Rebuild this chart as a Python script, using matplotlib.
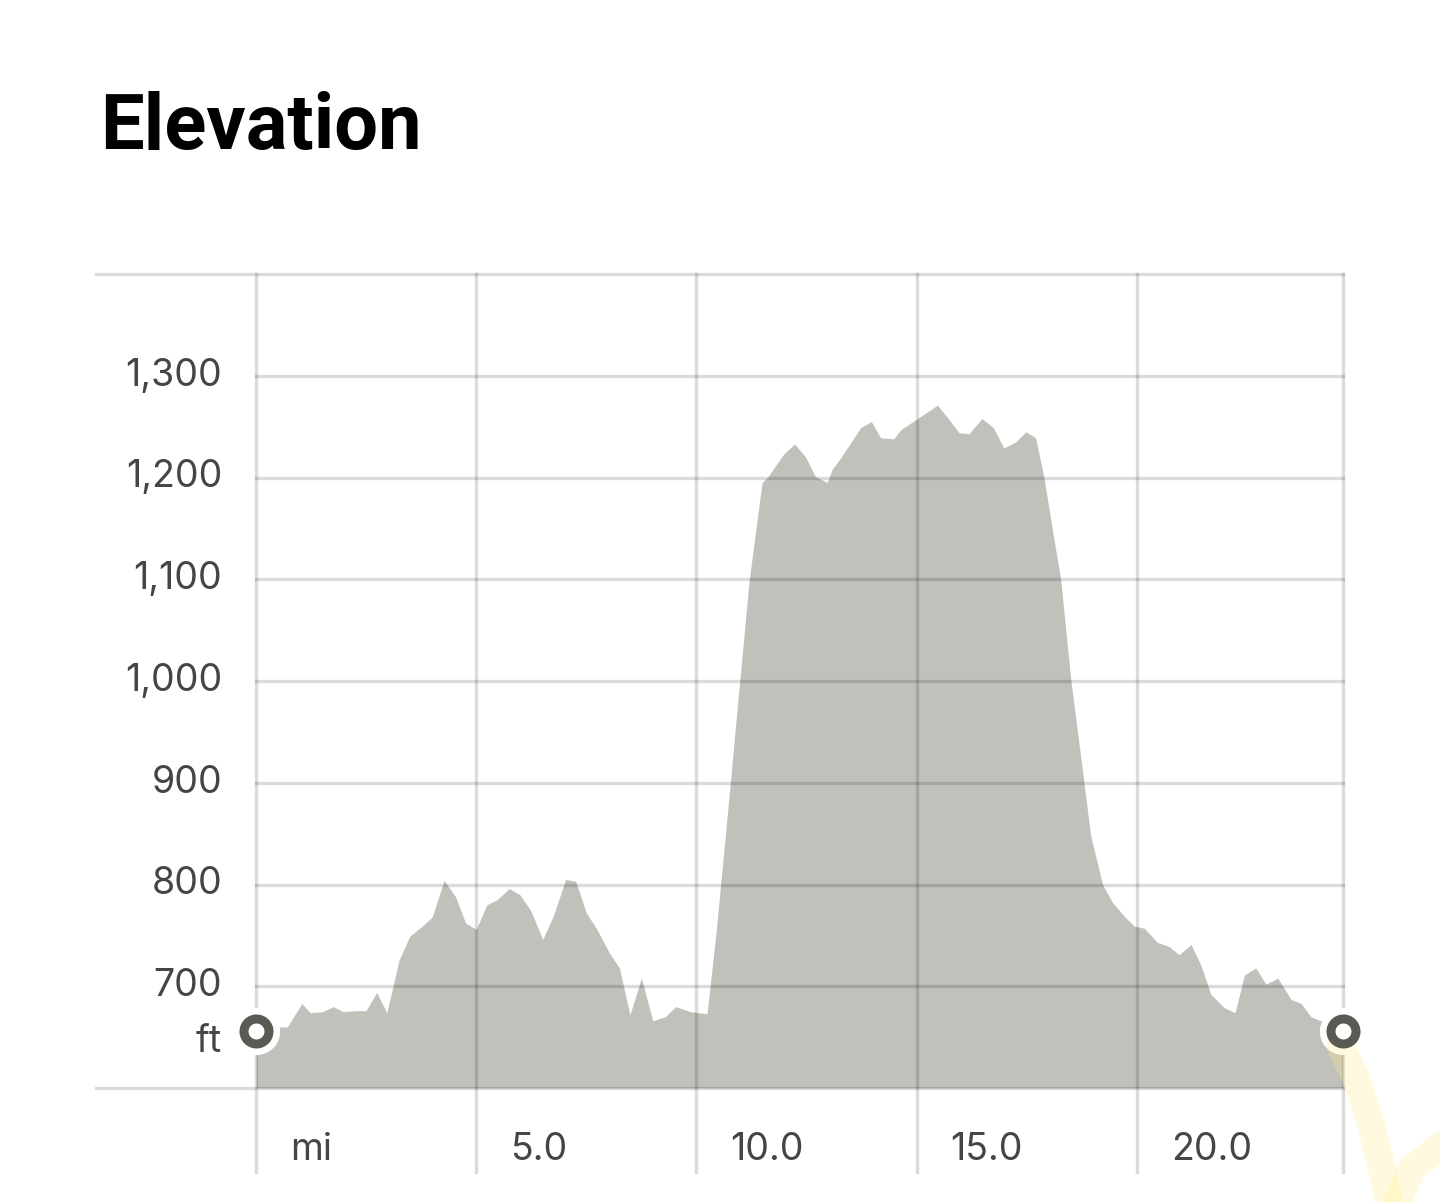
import matplotlib
matplotlib.use("Agg")
import matplotlib.pyplot as plt

plt.rcParams['font.family'] = ['Inter', 'DejaVu Sans']

# distance along the trail (mi) and elevation (ft)
miles = [0.0, 0.45, 0.71, 1.04, 1.23, 1.51, 1.75, 1.98, 2.26, 2.5, 2.74, 2.97,
         3.25, 3.49, 3.77, 4.0, 4.27, 4.53, 4.76, 5.0, 5.24, 5.47, 5.75, 5.99,
         6.23, 6.51, 6.75, 7.03, 7.26, 7.5, 7.74, 8.02, 8.25, 8.49, 8.75, 9.01,
         9.29, 9.53, 9.86, 10.24, 10.45, 10.7, 10.95, 11.2, 11.49, 11.61, 11.98,
         12.23, 12.48, 12.7, 12.97, 13.08, 13.27, 13.73, 13.97, 14.18, 14.48,
         14.64, 15.02, 15.47, 15.7, 15.96, 16.19, 16.48, 16.74, 16.98, 17.25,
         17.48, 17.7, 17.89, 18.08, 18.27, 18.5, 18.8, 18.95, 19.22, 19.45,
         19.71, 19.94, 20.17, 20.47, 20.73, 20.96, 21.23, 21.45, 21.68, 21.98,
         22.23, 22.44, 22.7, 22.93, 23.2, 23.5, 23.73, 23.95, 24.18, 24.45, 24.68]
elev = [641, 660, 660, 683, 674, 675, 680, 675, 676, 676, 694, 674,
        726, 749, 759, 768, 804, 788, 762, 756, 780, 785, 796, 790,
        775, 746, 769, 805, 803, 772, 756, 733, 718, 672, 708, 666,
        670, 680, 675, 673, 755, 868, 985, 1100, 1195, 1200, 1223,
        1233, 1220, 1201, 1195, 1208, 1219, 1249, 1255, 1239, 1238,
        1247, 1258, 1271, 1259, 1244, 1243, 1258, 1249, 1229, 1235,
        1245, 1239, 1200, 1149, 1100, 1001, 900, 848, 800, 782,
        769, 759, 757, 743, 739, 731, 741, 721, 692, 679,
        674, 711, 718, 702, 708, 687, 683, 670, 666, 657, 650]

# start / finish markers
marker_miles = [0.0, 24.68]
marker_elev = [656, 656]

y_ticks = [700, 800, 900, 1000, 1100, 1200, 1300]
y_labels = ['700', '800', '900', '1,000', '1,100', '1,200', '1,300']
x_ticks = [0, 5, 10, 15, 20]
x_labels = ['mi', '5.0', '10.0', '15.0', '20.0']

fig = plt.figure(figsize=(14.4, 12.02), dpi=100)
ax = fig.add_axes([256 / 1440, 114 / 1202, 1087 / 1440, 814 / 1202])
ax.set_xlim(0, 24.68)
ax.set_ylim(600, 1400)
ax.axis('off')

ax.fill_between(miles, elev, 600, color='#c1c0ba', linewidth=0, zorder=1)

grid = dict(color='black', alpha=0.14, linewidth=2.4, zorder=2, clip_on=False)
# horizontal grid lines
for v in y_ticks:
    ax.plot([0, 1], [v, v], transform=ax.get_yaxis_transform(), **grid)
# top and bottom borders reach further left
for v in [600, 1400]:
    ax.plot([-0.147, 1], [v, v], transform=ax.get_yaxis_transform(), **grid)
# vertical grid lines run below the plot
for v in x_ticks + [24.68]:
    ax.plot([v, v], [-0.103, 1], transform=ax.get_xaxis_transform(), **grid)

# y labels
for v, lab in zip(y_ticks, y_labels):
    ax.text(-0.031, v, lab, transform=ax.get_yaxis_transform(), ha='right',
            va='center', fontsize=27, color='#454541')
ax.text(-0.031, 645, 'ft', transform=ax.get_yaxis_transform(), ha='right',
        va='center', fontsize=27, color='#454541')

# x labels, just right of each grid line
for v, lab in zip(x_ticks, x_labels):
    ax.annotate(lab, xy=(v, -0.076), xycoords=ax.get_xaxis_transform(),
                xytext=(34, 0), textcoords='offset pixels', ha='left',
                va='center', fontsize=27, color='#454541', annotation_clip=False)

# start / end circles: white halo
ax.plot(marker_miles, marker_elev, 'o', ms=34, color='white', mew=0,
        zorder=5, clip_on=False)

# faint yellow stroke in the lower right corner (under the rings)
stroke = dict(color='#fff08c', alpha=0.28, linewidth=20, solid_capstyle='round',
              solid_joinstyle='round', transform=fig.transFigure,
              clip_on=False, zorder=5.5)
ax.plot([1340 / 1440, 1356 / 1440, 1370 / 1440, 1381 / 1440, 1390 / 1440],
        [1 - 1045 / 1202, 1 - 1078 / 1202, 1 - 1120 / 1202,
         1 - 1165 / 1202, 1 - 1205 / 1202], **stroke)
ax.plot([1396 / 1440, 1412 / 1440, 1442 / 1440],
        [1 - 1205 / 1202, 1 - 1168 / 1202, 1 - 1145 / 1202], **stroke)

# dark rings
ax.plot(marker_miles, marker_elev, 'o', ms=18, mfc='white', mec='#5a5a55',
        mew=6.5, zorder=6, clip_on=False)

fig.text(100 / 1440, 1 - 149 / 1202, 'Elevation', fontsize=56, family='Roboto',
         fontweight='bold', color='black', ha='left', va='baseline')

fig.savefig('out.png', dpi=100, facecolor='white')
